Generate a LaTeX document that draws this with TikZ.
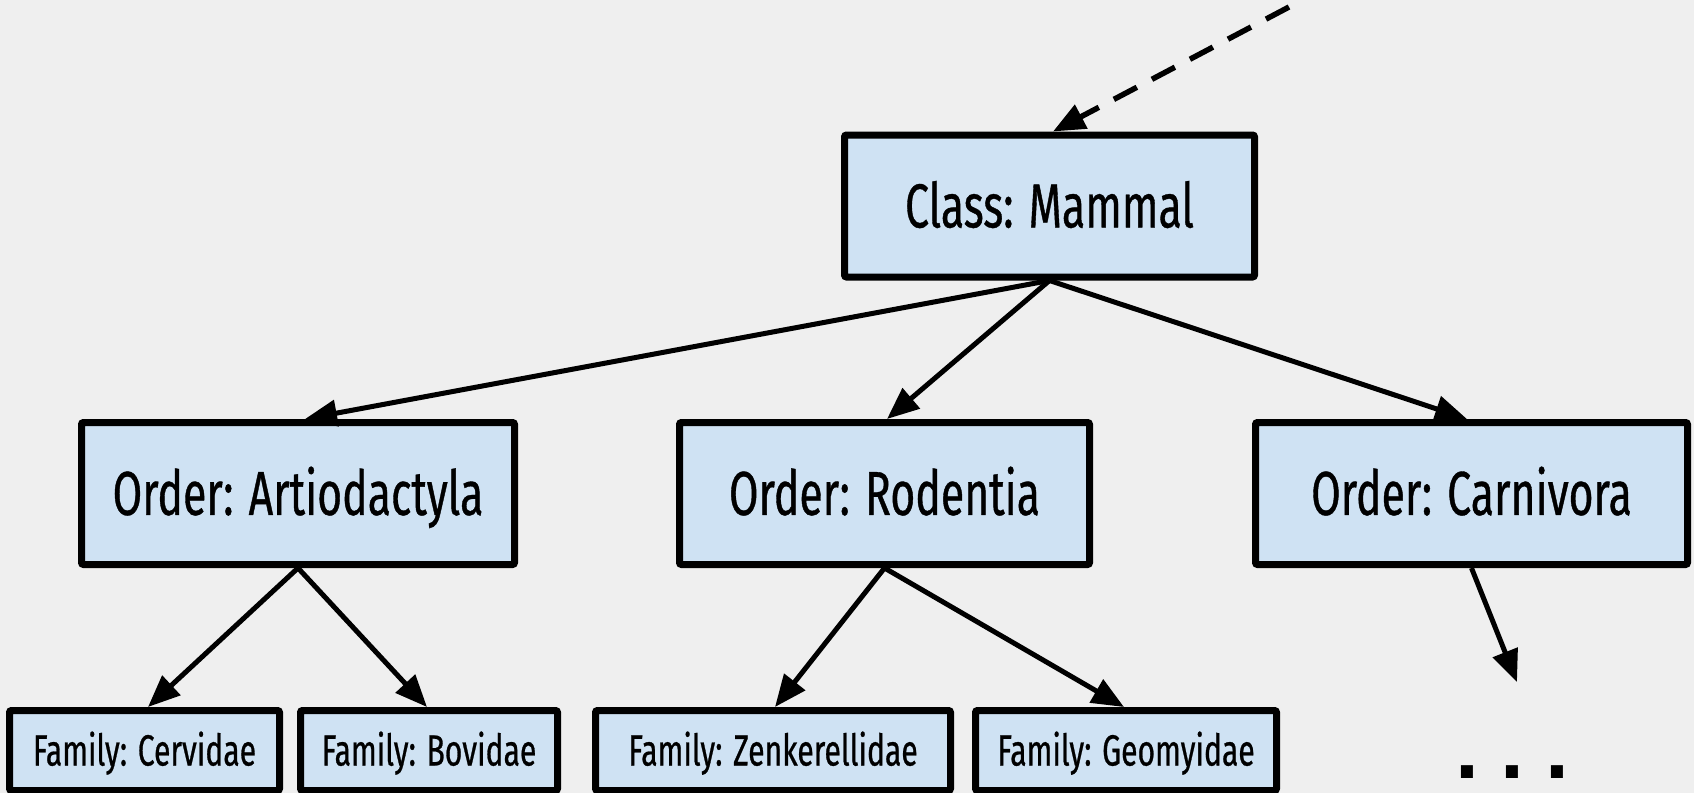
\documentclass[tikz,border=0pt]{standalone}
\usepackage{fontspec}
\setmainfont[FakeStretch=0.69, FakeBold=0.6]{Fira Sans}
\newfontfamily\dotfont{DejaVu Sans}
\usetikzlibrary{arrows.meta}
\definecolor{canvas}{HTML}{EFEFEF}
\definecolor{boxfill}{HTML}{CFE2F3}

\begin{document}
\begin{tikzpicture}[x=0.5pt,y=-0.5pt,
  taxon/.style={draw=black, fill=boxfill, line width=3.5pt, rounded corners=1pt,
                inner sep=0pt, align=center, text depth=0pt},
  upper/.style={taxon, minimum height=71pt,
                font=\fontsize{31}{36}\selectfont, text height=21.4pt},
  lower/.style={taxon, minimum height=40pt,
                font=\fontsize{21.8}{26}\selectfont, text height=15pt},
  link/.style={line width=2.5pt, -{Triangle[length=16pt,width=13pt]}},
  hint/.style={link, line width=2.75pt, dash pattern=on 13pt off 8.5pt}
]
% canvas
\fill[canvas] (0,0) rectangle (1694,793);
\useasboundingbox (0,0) rectangle (1694,793);

% class level
\node[upper, minimum width=205pt] (class) at (1049.5,206) {Class: Mammal};

% order level
\node[upper, minimum width=216.5pt] (artio) at (298,493.5) {Order: Artiodactyla};
\node[upper, minimum width=205pt]   (rodent) at (884.5,493.5) {Order: Rodentia};
\node[upper, minimum width=216pt]   (carni) at (1471.5,493.5) {Order: Carnivora};

% family level
\node[lower, minimum width=135pt]   (cerv) at (144.5,750.5) {Family: Cervidae};
\node[lower, minimum width=128.5pt] (bov) at (429,750.5) {Family: Bovidae};
\node[lower, minimum width=177.5pt] (zenk) at (773,750.5) {Family: Zenkerellidae};
\node[lower, minimum width=150.5pt] (geom) at (1126,750.5) {Family: Geomyidae};

% continuation marks
\coordinate (above) at (1289,7);
\coordinate (more) at (1517,682);
\node[anchor=base, inner sep=0pt, font=\dotfont\bfseries\fontsize{34}{34}\selectfont]
  (etc) at (1512.5,778) {.\hspace{9.6pt}.\hspace{9.6pt}.};

% connectors
\draw[hint] (above) -- ([xshift=1.75pt]class.north);
\draw[link] (class.south) -- ([xshift=3.5pt]artio.north);
\draw[link] (class.south) -- ([xshift=1.25pt]rodent.north);
\draw[link] (class.south) -- ([xshift=-2.25pt]carni.north);
\draw[link] (artio.south) -- ([xshift=1.75pt]cerv.north);
\draw[link] (artio.south) -- ([xshift=-1pt]bov.north);
\draw[link] (rodent.south) -- ([xshift=1pt]zenk.north);
\draw[link] (rodent.south) -- ([xshift=-1pt]geom.north);
\draw[link] (carni.south) -- (more);
\end{tikzpicture}
\end{document}
